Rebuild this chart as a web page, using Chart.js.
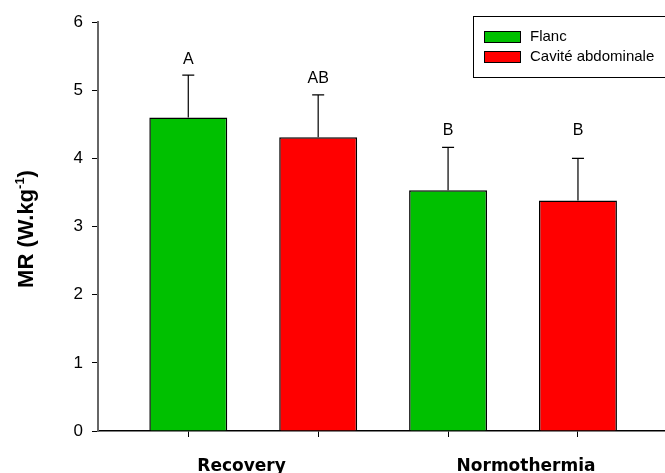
<!DOCTYPE html>
<html>
<head>
<meta charset="utf-8">
<script src="https://cdn.jsdelivr.net/npm/chart.js@4.4.0/dist/chart.umd.min.js"></script>
<style>
  html, body { margin: 0; padding: 0; background: #fff; overflow: hidden; }
  #wrap { width: 665px; height: 473px; position: relative; }
</style>
</head>
<body>
<div id="wrap"><canvas id="chart-mr" width="665" height="473"></canvas></div>
<script>
// ─── Data ─────────────────────────────────────────────────────────────────────
const groups = ['Recovery', 'Normothermia'];
const groupPos = [1.41, 3.6];            // where the group names sit on the x scale
const seriesNames = ['Flanc', 'Cavité abdominale'];
const flancX = [1, 3];
const cavityX = [2, 4];
const flancMR = [4.60, 3.53];
const cavityMR = [4.31, 3.38];
const flancErr = [0.62, 0.63];
const cavityErr = [0.62, 0.62];
const flancLetters = ['A', 'B'];
const cavityLetters = ['AB', 'B'];
const flancLetterY = [5.45, 4.41];
const cavityLetterY = [5.17, 4.41];
const yTicks = [0, 1, 2, 3, 4, 5, 6];

const FONT = '"Liberation Sans", Arial, sans-serif';

// ─── Error bars + significance letters ───────────────────────────────────────
const errorBars = {
  id: 'errorBars',
  afterDatasetsDraw(chart) {
    const { ctx, scales: { y } } = chart;
    ctx.save();
    chart.data.datasets.forEach((ds, di) => {
      const meta = chart.getDatasetMeta(di);
      meta.data.forEach((bar, i) => {
        const top = y.getPixelForValue(ds.data[i].y + ds.err[i]);
        ctx.strokeStyle = '#000';
        ctx.lineWidth = 1.2;
        ctx.beginPath();
        ctx.moveTo(bar.x, bar.y);
        ctx.lineTo(bar.x, top);
        ctx.moveTo(bar.x - 6, top);
        ctx.lineTo(bar.x + 6, top);
        ctx.stroke();

        ctx.fillStyle = '#000';
        ctx.font = '16px ' + FONT;
        ctx.textAlign = 'center';
        ctx.textBaseline = 'middle';
        ctx.fillText(ds.letters[i], bar.x, y.getPixelForValue(ds.letterY[i]));
      });
    });
    ctx.restore();
  }
};

// ─── Legend, axis title, group names ─────────────────────────────────────────
const decorations = {
  id: 'decorations',
  afterDraw(chart) {
    const { ctx, scales: { x } } = chart;
    ctx.save();

    // legend box (runs off the right edge like the original)
    ctx.strokeStyle = '#000';
    ctx.lineWidth = 1;
    ctx.strokeRect(473.5, 16.5, 210, 61);
    chart.data.datasets.forEach((ds, i) => {
      const cy = 37 + i * 20;
      ctx.fillStyle = ds.backgroundColor;
      ctx.fillRect(484.5, cy - 5.5, 36, 11);
      ctx.strokeRect(484.5, cy - 5.5, 36, 11);
      ctx.fillStyle = '#000';
      ctx.font = '15px ' + FONT;
      ctx.textAlign = 'left';
      ctx.textBaseline = 'middle';
      ctx.fillText(ds.label, 530, cy);
    });

    // y-axis title with superscript
    ctx.translate(33, 229);
    ctx.rotate(-Math.PI / 2);
    ctx.fillStyle = '#000';
    ctx.textBaseline = 'alphabetic';
    ctx.textAlign = 'left';
    const main = 'MR (W.kg', sup = '-1', close = ')';
    ctx.font = 'bold 22px ' + FONT;
    const wMain = ctx.measureText(main).width;
    const wClose = ctx.measureText(close).width;
    ctx.font = 'bold 13px ' + FONT;
    const wSup = ctx.measureText(sup).width;
    let sx = -(wMain + wSup + wClose) / 2;
    ctx.font = 'bold 22px ' + FONT;
    ctx.fillText(main, sx, 0);
    sx += wMain;
    ctx.font = 'bold 13px ' + FONT;
    ctx.fillText(sup, sx, -9);
    sx += wSup;
    ctx.font = 'bold 22px ' + FONT;
    ctx.fillText(close, sx, 0);
    ctx.setTransform(1, 0, 0, 1, 0, 0);

    // group names under the axis
    ctx.font = 'bold 17px "DejaVu Sans", Verdana, sans-serif';
    ctx.textAlign = 'center';
    ctx.textBaseline = 'alphabetic';
    groups.forEach((g, i) => {
      ctx.fillText(g, x.getPixelForValue(groupPos[i]), 471);
    });
    ctx.restore();
  }
};

// ─── Chart ───────────────────────────────────────────────────────────────────
const barStyle = {
  borderColor: '#000',
  borderWidth: 1.5,
  grouped: false,
  categoryPercentage: 0.6,
  barPercentage: 1
};

new Chart(document.getElementById('chart-mr'), {
  type: 'bar',
  data: {
    datasets: [
      {
        ...barStyle,
        label: seriesNames[0],
        data: flancX.map((x, i) => ({ x, y: flancMR[i] })),
        backgroundColor: '#00c000',
        err: flancErr,
        letters: flancLetters,
        letterY: flancLetterY
      },
      {
        ...barStyle,
        label: seriesNames[1],
        data: cavityX.map((x, i) => ({ x, y: cavityMR[i] })),
        backgroundColor: '#ff0000',
        err: cavityErr,
        letters: cavityLetters,
        letterY: cavityLetterY
      }
    ]
  },
  options: {
    responsive: false,
    animation: false,
    devicePixelRatio: 1,
    layout: { padding: { top: 22, left: 0, right: 0, bottom: 0 } },
    plugins: { legend: { display: false }, tooltip: { enabled: false } },
    scales: {
      x: {
        type: 'linear',
        offset: false,
        min: 0.305,
        max: 4.67,
        afterBuildTicks: s => { s.ticks = flancX.concat(cavityX).sort().map(v => ({ value: v })); },
        afterFit: s => { s.height = 42; },
        ticks: { display: false },
        grid: { offset: false, drawOnChartArea: false, tickLength: 6, color: '#000' },
        border: { color: '#000', width: 1.5 }
      },
      y: {
        min: 0,
        max: 6,
        afterBuildTicks: s => { s.ticks = yTicks.map(v => ({ value: v })); },
        afterFit: s => { s.width = 98; },
        ticks: { color: '#000', padding: 9, font: { family: FONT, size: 17 } },
        grid: { drawOnChartArea: false, tickLength: 6, color: '#000' },
        border: { color: '#666', width: 2 }
      }
    }
  },
  plugins: [errorBars, decorations]
});
</script>
</body>
</html>
